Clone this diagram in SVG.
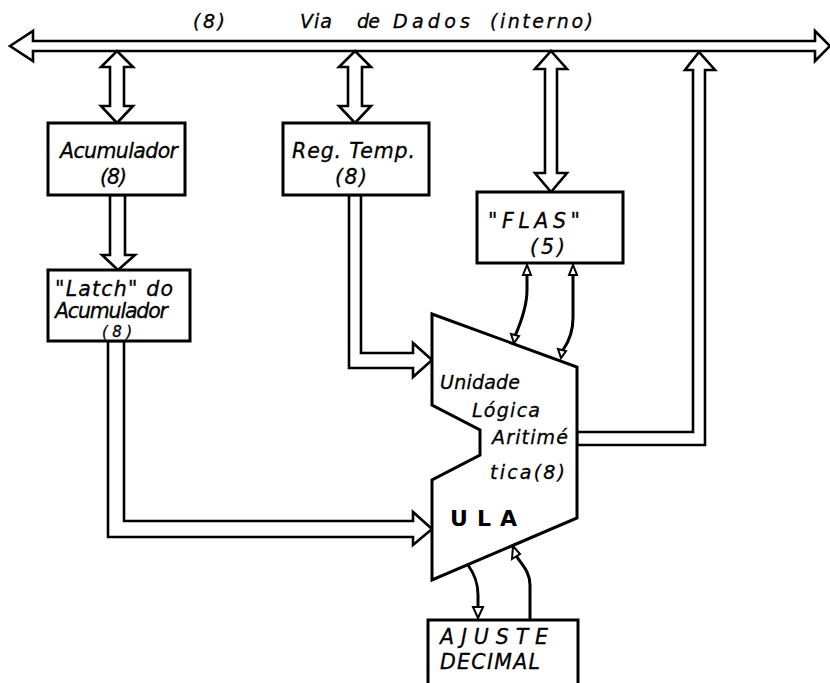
<svg xmlns="http://www.w3.org/2000/svg" width="830" height="683" viewBox="0 0 830 683">
<style>
.bx{fill:#fff;stroke:#000;stroke-width:3}
.ar{fill:#fff;stroke:#000;stroke-width:2.6;stroke-linejoin:miter}
.ln{fill:none;stroke:#000;stroke-width:3;stroke-linecap:round}
.sm{fill:#fff;stroke:#000;stroke-width:2}
text{font-family:"DejaVu Sans","Liberation Sans",sans-serif;font-style:italic;font-size:20.5px;fill:#000;stroke:#000;stroke-width:0.3}
.s15{font-size:15px}
.s18{font-size:19px}
.ula{font-style:normal;font-weight:bold;font-size:22px;stroke-width:0}
</style>
<rect width="830" height="683" fill="#fff"/>

<g id="connectors">
  <polygon class="ar" points="10,46 33,31 33,41 815,41 815,31 830,46 815,61 815,51 33,51 33,61"/>
  <polygon class="ar" points="117,51 133,67 124,67 124,106 133,106 117,123 101,106 110,106 110,67 101,67"/>
  <polygon class="ar" points="355,51 371,67 362,67 362,106 371,106 355,123 339,106 348,106 348,67 339,67"/>
  <polygon class="ar" points="551,51 567,69 557,69 557,173 567,173 551,192 535,173 545,173 545,69 535,69"/>
  <polygon class="ar" points="110,195 110,255 102,255 118,270 135,255 125,255 125,195"/>
  <polygon class="ar" points="108,341 108,537 413,537 413,545 432,529 413,512 413,521 124,521 124,341"/>
  <polygon class="ar" points="349,195 349,368 413,368 413,377 432,360 413,343 413,353 361,353 361,195"/>
  <polygon class="ar" points="577,432 693,432 693,70 685,70 699,52 715,70 705,70 705,445 577,445"/>
  <path class="ln" d="M515,336 C522,320 527,305 527,290 L527,274"/>
  <polygon class="sm" points="523,275 527,265 531,275"/>
  <polygon class="sm" points="511,334 519,336 514,343"/>
  <path class="ln" d="M563,350 C570,340 573,330 573,318 L573,274"/>
  <polygon class="sm" points="569,275 573,265 577,275"/>
  <polygon class="sm" points="558,349 566,351 561,358"/>
  <path class="ln" d="M468,565 C475,575 478,583 478,595 L478,608"/>
  <polygon class="sm" points="473,607 483,607 478,618"/>
  <path class="ln" d="M530,619 L530,585 C530,572 522,565 517,557"/>
  <polygon class="sm" points="512,559 520,554 513,546"/>
</g>

<text class="s18" x="193" y="28" textLength="32" lengthAdjust="spacing">(8)</text>
<text class="s18" y="28"><tspan x="300" textLength="32" lengthAdjust="spacing">Via</tspan> <tspan x="357" textLength="23" lengthAdjust="spacing">de</tspan> <tspan x="393" textLength="77" lengthAdjust="spacing">Dados</tspan> <tspan x="490" textLength="103" lengthAdjust="spacing">(interno)</tspan></text>

<g id="acumulador">
  <rect class="bx" x="48" y="123" width="137" height="72"/>
  <text x="60" y="158" textLength="118" lengthAdjust="spacing">Acumulador</text>
  <text x="100" y="184" textLength="27" lengthAdjust="spacing">(8)</text>
</g>

<g id="regtemp">
  <rect class="bx" x="283" y="123" width="146" height="72"/>
  <text x="292" y="158" textLength="123" lengthAdjust="spacing">Reg. Temp.</text>
  <text x="335" y="184" textLength="32" lengthAdjust="spacing">(8)</text>
</g>

<g id="latch">
  <rect class="bx" x="48" y="270" width="142" height="71"/>
  <text x="55" y="296" textLength="118" lengthAdjust="spacing">"Latch" do</text>
  <text x="55" y="318" textLength="113" lengthAdjust="spacing">Acumulador</text>
  <text class="s15" x="102" y="337" textLength="30" lengthAdjust="spacing">(8)</text>
</g>

<g id="flags">
  <rect class="bx" x="477" y="192" width="146" height="71"/>
  <text x="488" y="228" textLength="92" lengthAdjust="spacing">"FLAS"</text>
  <text x="530" y="254" textLength="35" lengthAdjust="spacing">(5)</text>
</g>

<g id="ula">
  <polygon class="bx" points="432,314 577,367 577,518 432,580 432,480 480,455 480,430 432,405"/>
  <text class="s18" x="440" y="389" textLength="80" lengthAdjust="spacing">Unidade</text>
  <text class="s18" x="472" y="417" textLength="68" lengthAdjust="spacing">Lógica</text>
  <text class="s18" x="492" y="444" textLength="76" lengthAdjust="spacing">Aritimé</text>
  <text class="s18" x="490" y="479" textLength="75" lengthAdjust="spacing">tica(8)</text>
  <text class="ula" x="450" y="526" textLength="67" lengthAdjust="spacing">ULA</text>
</g>

<g id="ajuste">
  <rect class="bx" x="428" y="620" width="150" height="80"/>
  <text x="440" y="644" textLength="108" lengthAdjust="spacing">AJUSTE</text>
  <text x="440" y="669" textLength="100" lengthAdjust="spacing">DECIMAL</text>
</g>
</svg>
